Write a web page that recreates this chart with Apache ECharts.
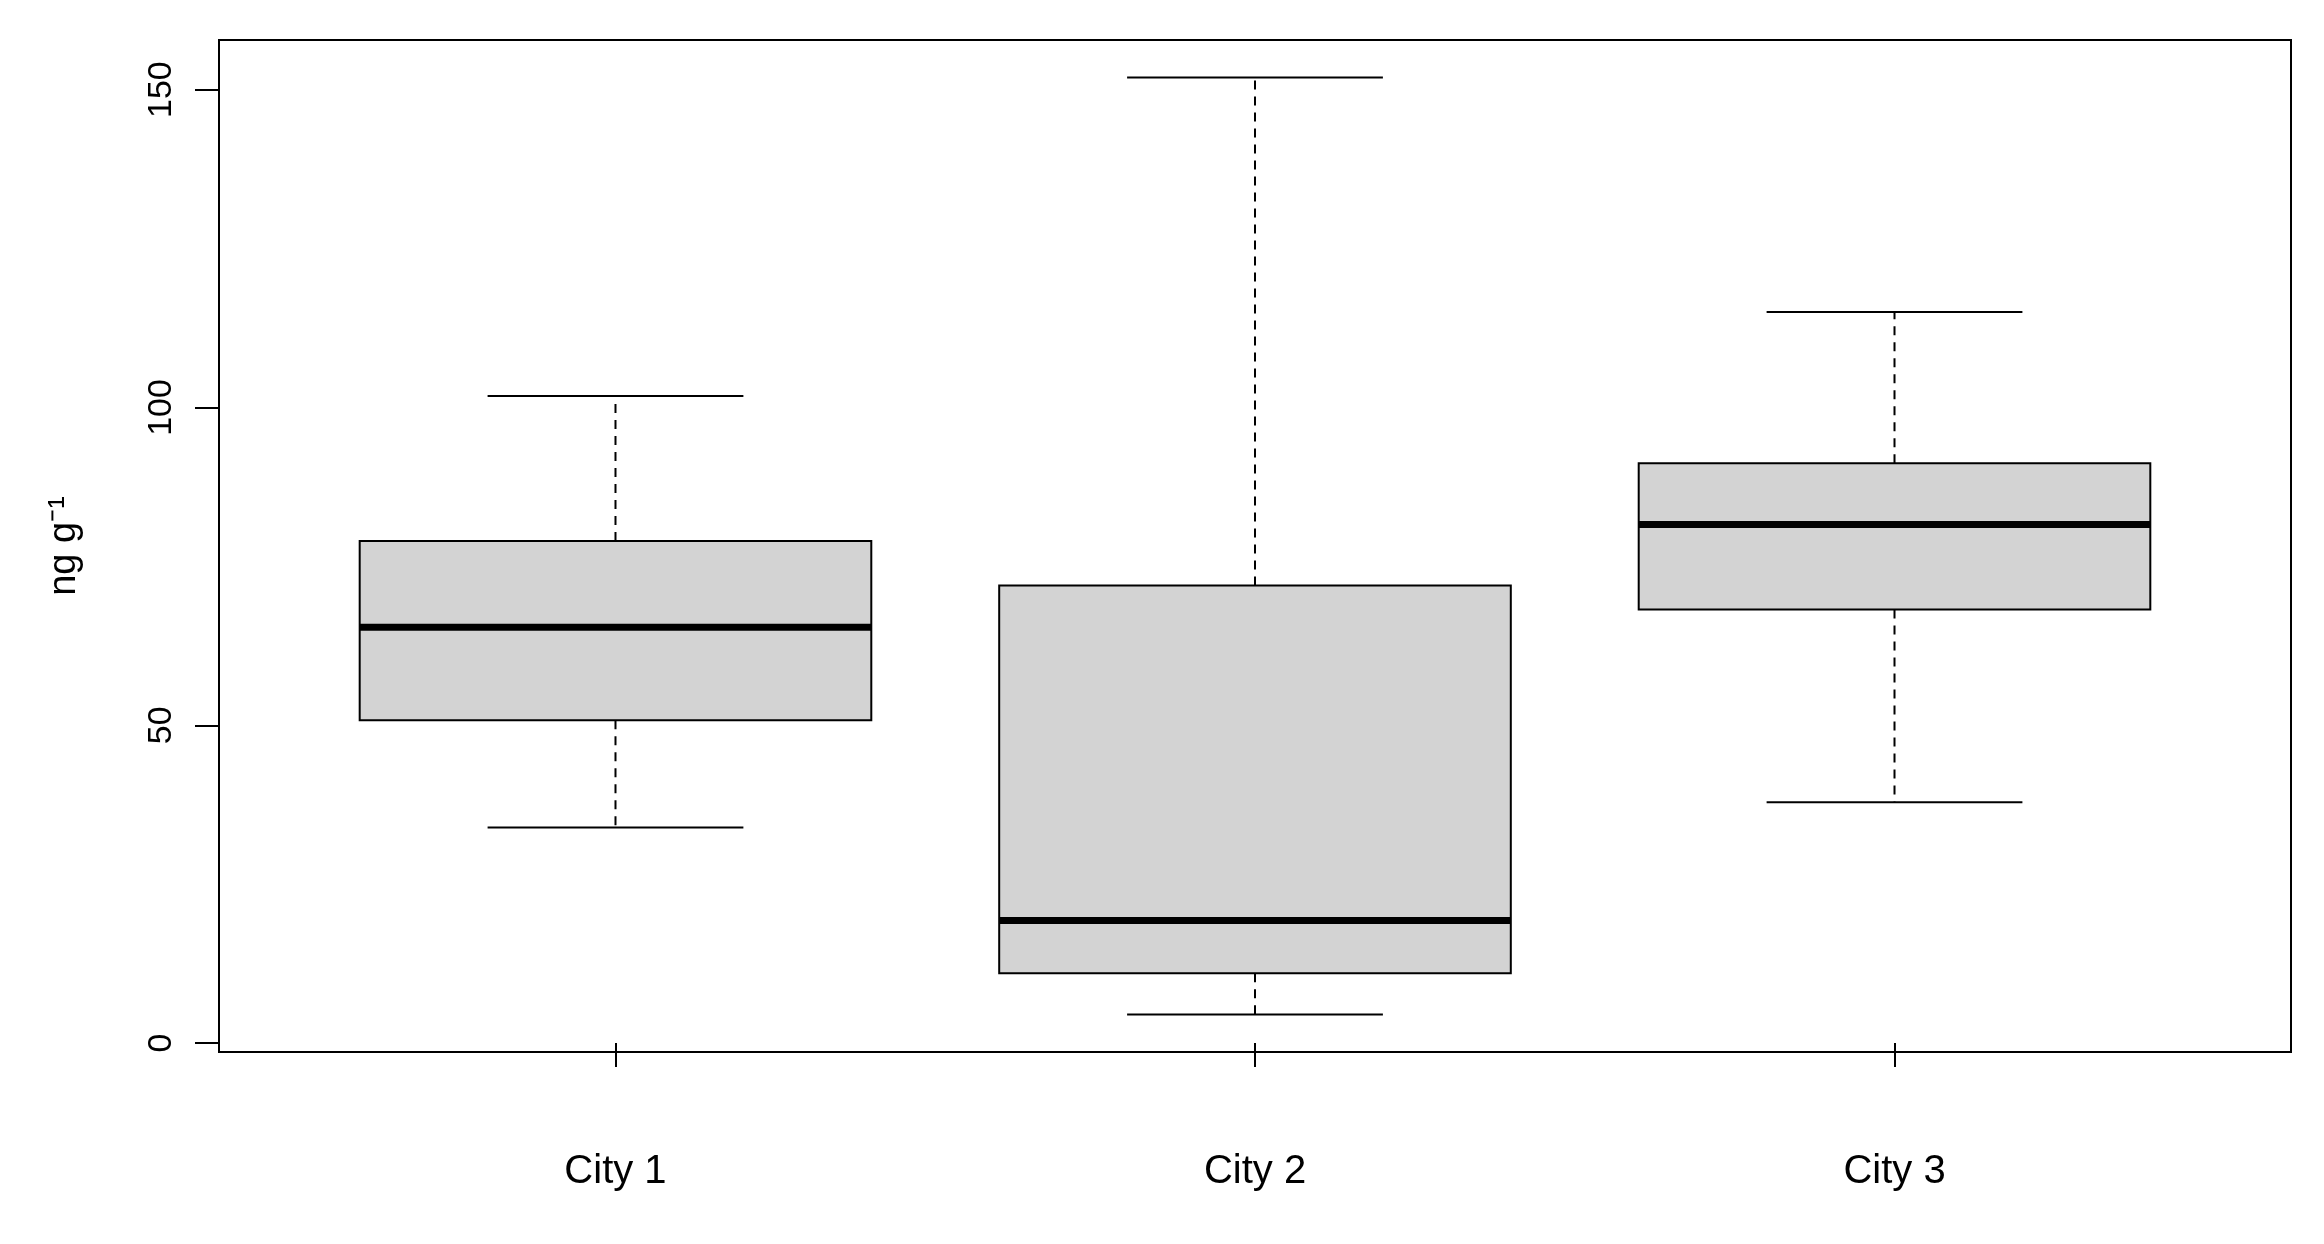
<!DOCTYPE html>
<html lang="en">
<head>
<meta charset="UTF-8">
<title>Boxplot by city</title>
<style>
  html, body { margin: 0; padding: 0; background: #fff; }
  #chart { width: 2324px; height: 1244px; }
</style>
<script src="https://cdn.jsdelivr.net/npm/echarts/dist/echarts.min.js"></script>
</head>
<body>
<div id="chart"></div>
<script>
    // box stats: [low whisker, Q1, median, Q3, high whisker]
    const cities = ['City 1', 'City 2', 'City 3'];
    const lowWhisker = [33.9, 4.5, 37.9];
    const q1 = [50.8, 11, 68.2];
    const median = [65.4, 19.3, 81.6];
    const q3 = [79, 72, 91.2];
    const highWhisker = [101.8, 151.9, 115];
    const yTicks = [0, 50, 100, 150];

    const boxData = cities.map((c, i) => [i + 1, lowWhisker[i], q1[i], median[i], q3[i], highWhisker[i]]);

    function renderBox(params, api) {
        const x = api.value(0);
        const half = 0.4, capHalf = 0.2;
        const p = (xx, yy) => api.coord([xx, yy]);
        const lo = api.value(1), a = api.value(2), m = api.value(3), b = api.value(4), hi = api.value(5);
        const tl = p(x - half, b), br = p(x + half, a);
        const dash = { stroke: '#000', lineWidth: 2, lineDash: [9, 7] };
        const solid = { stroke: '#000', lineWidth: 2 };
        return {
            type: 'group',
            children: [
                { type: 'line', shape: { x1: p(x, b)[0], y1: p(x, b)[1], x2: p(x, hi)[0], y2: p(x, hi)[1] }, style: dash },
                { type: 'line', shape: { x1: p(x, a)[0], y1: p(x, a)[1], x2: p(x, lo)[0], y2: p(x, lo)[1] }, style: dash },
                { type: 'line', shape: { x1: p(x - capHalf, hi)[0], y1: p(x, hi)[1], x2: p(x + capHalf, hi)[0], y2: p(x, hi)[1] }, style: solid },
                { type: 'line', shape: { x1: p(x - capHalf, lo)[0], y1: p(x, lo)[1], x2: p(x + capHalf, lo)[0], y2: p(x, lo)[1] }, style: solid },
                { type: 'rect', shape: { x: tl[0], y: tl[1], width: br[0] - tl[0], height: br[1] - tl[1] },
                  style: { fill: '#d3d3d3', stroke: '#000', lineWidth: 2 } },
                { type: 'line', shape: { x1: tl[0], y1: p(x, m)[1], x2: br[0], y2: p(x, m)[1] },
                  style: { stroke: '#000', lineWidth: 7 } }
            ]
        };
    }

    const chart = echarts.init(document.getElementById('chart'));
    chart.setOption({
        animation: false,
        grid: { left: 219, right: 33, top: 40, bottom: 192, show: true, borderColor: '#000', borderWidth: 2 },
        xAxis: {
            type: 'value', min: 0.38, max: 3.62,
            axisLine: { show: false }, splitLine: { show: false },
            axisTick: { show: true, length: 24, lineStyle: { color: '#000', width: 2 }, customValues: [1, 2, 3] },
            axisLabel: {
                customValues: [1, 2, 3], margin: 100, color: '#000', fontSize: 40,
                fontFamily: 'Liberation Sans Narrow, Liberation Sans, Arial',
                formatter: v => cities[Math.round(v) - 1]
            }
        },
        yAxis: {
            type: 'value', min: -1.4, max: 157.8,
            name: 'ng g\u207B\u00B9', nameLocation: 'middle', nameGap: 135, nameRotate: 90,
            nameTextStyle: { color: '#000', fontSize: 38, fontFamily: 'Liberation Sans, Arial' },
            axisLine: { show: false }, splitLine: { show: false },
            axisTick: { show: true, length: 24, lineStyle: { color: '#000', width: 2 }, customValues: yTicks },
            axisLabel: { customValues: yTicks, rotate: 90, margin: 40, color: '#000', fontSize: 34,
                fontFamily: 'Liberation Sans, Arial' }
        },
        series: [{
            type: 'custom',
            renderItem: renderBox,
            encode: { x: 0, y: [1, 2, 3, 4, 5] },
            data: boxData
        }]
    });
</script>
</body>
</html>
